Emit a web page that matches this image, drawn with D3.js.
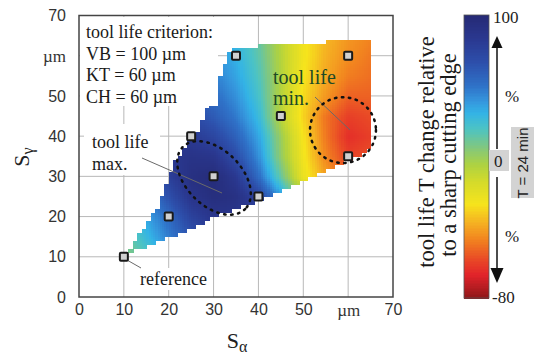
<!DOCTYPE html>
<html>
<head>
<meta charset="utf-8">
<script src="https://cdn.jsdelivr.net/npm/d3@7"></script>
<style>
  body { margin: 0; background: #fff; }
  svg { display: block; }
</style>
</head>
<body>
<svg id="chart" width="534" height="355"></svg>
<script>
// tool life change (%), rows = S_gamma, cols = S_alpha
const gridX = [10, 15, 20, 25, 30, 35, 40, 45, 50, 55, 60, 65];
const gridY = [10, 15, 20, 25, 30, 35, 40, 45, 50, 55, 60, 65];
const lifeChange = [
  [15, 25, 40, 55, 70, 80, 85, 80, 60, 30, 0, -20],
  [18, 35, 52, 68, 80, 86, 85, 75, 45, 10, -20, -35],
  [22, 42, 58, 78, 88, 88, 82, 62, 30, -5, -30, -40],
  [28, 50, 70, 88, 95, 92, 78, 45, 5, -25, -45, -48],
  [32, 58, 80, 93, 97, 85, 58, 22, -15, -35, -52, -52],
  [36, 62, 85, 90, 88, 72, 48, 12, -18, -42, -57, -54],
  [38, 64, 82, 84, 76, 62, 42, 10, -20, -45, -62, -58],
  [40, 62, 78, 74, 65, 53, 35, 2, -24, -46, -58, -55],
  [40, 60, 70, 66, 58, 47, 30, 3, -22, -38, -50, -50],
  [40, 58, 62, 58, 52, 42, 27, 4, -20, -34, -44, -47],
  [40, 55, 56, 52, 47, 38, 24, 3, -18, -32, -40, -45],
  [40, 52, 52, 48, 45, 36, 22, 2, -18, -30, -38, -42]
];

// outline of the tested region
const regionX = [10.9, 13.1, 17.6, 21.4, 24.5, 26.5, 33.2, 33.6, 40.0, 65.3, 65.3, 60.0, 49.2, 39.2, 31.0, 24.3];
const regionY = [10.9, 15.0, 22.4, 33.4, 38.5, 41.0, 59.9, 61.5, 62.5, 64.2, 37.2, 33.8, 28.4, 23.7, 20.4, 16.7];

// tested tools
const pointX = [10, 20, 25, 30, 35, 40, 45, 60, 60];
const pointY = [10, 20, 40, 30, 60, 25, 45, 60, 35];

const tickValues = [0, 10, 20, 30, 40, 50, 60, 70];
const tickLabels = ["0", "10", "20", "30", "40", "50", "µm", "70"];

// colour scale of the bar
const cmapVals = [100, 85, 70, 55, 45, 38, 28, 15, 5, -5, -20, -32, -42, -55, -65, -80];
const cmapCols = ["#252a75", "#2a3890", "#2d4fab", "#2f72c8", "#3598de", "#33b3e6", "#4cc3c4", "#86c878",
                  "#aed241", "#d2da2c", "#f6e41c", "#f5b022", "#f2861f", "#e94a26", "#e2232a", "#8e1719"];

const serif = '"Liberation Serif", "Times New Roman", serif';
const sans = '"Liberation Sans", Arial, sans-serif';

const svg = d3.select("#chart");
svg.append("rect").attr("width", 534).attr("height", 355).attr("fill", "#fff");

const x = d3.scaleLinear().domain([0, 70]).range([79, 393]);
const y = d3.scaleLinear().domain([0, 70]).range([297, 15.5]);
const color = d3.scaleLinear().domain(cmapVals).range(cmapCols).clamp(true);

// grid lines
const grid = svg.append("g").attr("stroke", "#b8b8b8").attr("stroke-width", 1);
tickValues.slice(1, -1).forEach(v => {
  grid.append("line").attr("x1", x(v)).attr("x2", x(v)).attr("y1", y(0)).attr("y2", y(70));
  grid.append("line").attr("x1", x(0)).attr("x2", x(70)).attr("y1", y(v)).attr("y2", y(v));
});

// bilinear lookup in the read grid, only used for shading
function lifeAt(px, py) {
  const step = gridX[1] - gridX[0];
  const fx = Math.max(0, Math.min(gridX.length - 1.001, (px - gridX[0]) / step));
  const fy = Math.max(0, Math.min(gridY.length - 1.001, (py - gridY[0]) / step));
  const i = Math.floor(fx), j = Math.floor(fy), tx = fx - i, ty = fy - j;
  const a = lifeChange[j][i] * (1 - tx) + lifeChange[j][i + 1] * tx;
  const b = lifeChange[j + 1][i] * (1 - tx) + lifeChange[j + 1][i + 1] * tx;
  return a * (1 - ty) + b * ty;
}

const poly = regionX.map((v, i) => [v, regionY[i]]);
const cells = [];
for (let cx = 10; cx < 66; cx++) {
  for (let cy = 10; cy < 65; cy++) {
    if (!d3.polygonContains(poly, [cx + 0.5, cy + 0.5])) continue;
    for (let sx = 0; sx < 2; sx++) {
      for (let sy = 0; sy < 2; sy++) {
        const x0 = cx + sx * 0.5, y0 = cy + sy * 0.5;
        cells.push({ x0: x0, y0: y0, v: lifeAt(x0 + 0.25, y0 + 0.25) });
      }
    }
  }
}
svg.append("g").attr("shape-rendering", "crispEdges")
  .selectAll("rect").data(cells).join("rect")
  .attr("x", d => x(d.x0))
  .attr("y", d => y(d.y0 + 0.5))
  .attr("width", x(0.5) - x(0) + 0.7)
  .attr("height", y(0) - y(0.5) + 0.7)
  .attr("fill", d => color(d.v));

// frame
svg.append("rect")
  .attr("x", x(0)).attr("y", y(70))
  .attr("width", x(70) - x(0)).attr("height", y(0) - y(70))
  .attr("fill", "none").attr("stroke", "#444").attr("stroke-width", 1.5);

// axes
const xAxis = svg.append("g").attr("transform", "translate(0," + y(0) + ")")
  .call(d3.axisBottom(x).tickValues(tickValues).tickFormat((d, i) => tickLabels[i]).tickSize(0).tickPadding(7));
const yAxis = svg.append("g").attr("transform", "translate(" + x(0) + ",0)")
  .call(d3.axisLeft(y).tickValues(tickValues).tickFormat((d, i) => tickLabels[i]).tickSize(0).tickPadding(13));
[xAxis, yAxis].forEach(ax => {
  ax.select(".domain").remove();
  ax.selectAll("text")
    .attr("fill", "#333")
    .attr("font-size", (d, i) => tickLabels[i] === "µm" ? 17 : 16)
    .attr("font-family", (d, i) => tickLabels[i] === "µm" ? serif : sans);
});

// axis titles
const xTitle = svg.append("text").attr("x", 237).attr("y", 348)
  .attr("text-anchor", "middle").attr("font-family", serif).attr("font-size", 22).attr("fill", "#222");
xTitle.append("tspan").text("S");
xTitle.append("tspan").attr("font-size", 16).attr("dy", 4).text("α");

const yTitle = svg.append("text").attr("transform", "translate(29,157) rotate(-90)")
  .attr("text-anchor", "middle").attr("font-family", serif).attr("font-size", 22).attr("fill", "#222");
yTitle.append("tspan").text("S");
yTitle.append("tspan").attr("font-size", 16).attr("dy", 4).text("γ");

// white boxes behind annotations
[[80, 17, 138, 89], [84, 124, 76, 51], [138, 268, 70, 22]].forEach(b => {
  svg.append("rect").attr("x", b[0]).attr("y", b[1]).attr("width", b[2]).attr("height", b[3]).attr("fill", "#fff");
});

// leader lines
const leaders = [[127, 260, 141, 268], [142, 158, 222, 193], [315, 97, 350, 130]];
leaders.forEach(l => {
  svg.append("line").attr("x1", l[0]).attr("y1", l[1]).attr("x2", l[2]).attr("y2", l[3])
    .attr("stroke", "#6a6a6a").attr("stroke-width", 1);
});

// dotted zones of max and min tool life
const pxPerUnit = x(1) - x(0);
svg.append("ellipse")
  .attr("transform", "translate(" + x(30.1) + "," + y(29.6) + ") rotate(45)")
  .attr("rx", 9.8 * pxPerUnit).attr("ry", 6.2 * pxPerUnit)
  .attr("fill", "none").attr("stroke", "#111").attr("stroke-width", 2.5)
  .attr("stroke-dasharray", "1.5 5.5").attr("stroke-linecap", "round");
svg.append("circle")
  .attr("cx", x(58.85)).attr("cy", y(41.5)).attr("r", 7.35 * pxPerUnit)
  .attr("fill", "none").attr("stroke", "#111").attr("stroke-width", 2.5)
  .attr("stroke-dasharray", "1.5 5.5").attr("stroke-linecap", "round");

// test points
svg.append("g").selectAll("rect").data(pointX).join("rect")
  .attr("x", (d, i) => x(d) - 4).attr("y", (d, i) => y(pointY[i]) - 4)
  .attr("width", 8).attr("height", 8).attr("rx", 1)
  .attr("fill", "#d0d0d0").attr("stroke", "#1a1a1a").attr("stroke-width", 2);

// annotation texts
function lines(list, x0, y0, dy, size, fill) {
  list.forEach((t, i) => {
    svg.append("text").attr("x", x0).attr("y", y0 + i * dy)
      .attr("font-family", serif).attr("font-size", size).attr("fill", fill).text(t);
  });
}
lines(["tool life criterion:", "VB = 100 µm", "KT = 60 µm", "CH = 60 µm"], 86, 38, 21.7, 18, "#1a1a1a");
lines(["tool life", "max."], 92, 148, 22, 18, "#1a1a1a");
lines(["tool life", "min."], 273, 84, 21, 20, "#1d4a26");
lines(["reference"], 140, 285, 0, 18, "#1a1a1a");

// colour bar
const cb = d3.scaleLinear().domain([-80, 100]).range([298, 15]);
const barSteps = d3.range(-80, 100, 1);
svg.append("g").attr("shape-rendering", "crispEdges")
  .selectAll("rect").data(barSteps).join("rect")
  .attr("x", 464).attr("width", 25)
  .attr("y", d => cb(d + 1)).attr("height", d => cb(d) - cb(d + 1) + 0.6)
  .attr("fill", d => color(d + 0.5));
svg.append("rect").attr("x", 464).attr("y", cb(100)).attr("width", 25).attr("height", cb(-80) - cb(100))
  .attr("fill", "none").attr("stroke", "#555").attr("stroke-width", 0.8);

// colour bar labels
svg.append("text").attr("x", 493).attr("y", 23).attr("font-family", serif).attr("font-size", 17).attr("fill", "#222").text("100");
svg.append("text").attr("x", 492).attr("y", 303).attr("font-family", serif).attr("font-size", 17).attr("fill", "#222").text("-80");
svg.append("text").attr("x", 505).attr("y", 102).attr("font-family", serif).attr("font-size", 17).attr("fill", "#222").text("%");
svg.append("text").attr("x", 505).attr("y", 242).attr("font-family", serif).attr("font-size", 17).attr("fill", "#222").text("%");
svg.append("rect").attr("x", 489).attr("y", 150).attr("width", 20).attr("height", 21).attr("fill", "#d3d3d3");
svg.append("text").attr("x", 494).attr("y", 167).attr("font-family", serif).attr("font-size", 17).attr("fill", "#222").text("0");
svg.append("rect").attr("x", 511).attr("y", 127).attr("width", 23).attr("height", 71).attr("fill", "#d3d3d3");
svg.append("text").attr("transform", "translate(528,163) rotate(-90)").attr("text-anchor", "middle")
  .attr("font-family", sans).attr("font-size", 15).attr("fill", "#222").text("T = 24 min");

// arrows
svg.append("line").attr("x1", 497).attr("x2", 497).attr("y1", 149).attr("y2", 47).attr("stroke", "#111").attr("stroke-width", 1.5);
svg.append("path").attr("d", "M497,36L491.5,48L502.5,48Z").attr("fill", "#111");
svg.append("line").attr("x1", 497).attr("x2", 497).attr("y1", 177).attr("y2", 269).attr("stroke", "#111").attr("stroke-width", 1.5);
svg.append("path").attr("d", "M497,283L490.5,268L503.5,268Z").attr("fill", "#111");

// colour bar title
svg.append("text").attr("transform", "translate(434,152) rotate(-90)").attr("text-anchor", "middle")
  .attr("font-family", serif).attr("font-size", 22.5).attr("fill", "#1a1a1a").text("tool life T change relative");
svg.append("text").attr("transform", "translate(456,155) rotate(-90)").attr("text-anchor", "middle")
  .attr("font-family", serif).attr("font-size", 22.5).attr("fill", "#1a1a1a").text("to a sharp cutting edge");
</script>
</body>
</html>
